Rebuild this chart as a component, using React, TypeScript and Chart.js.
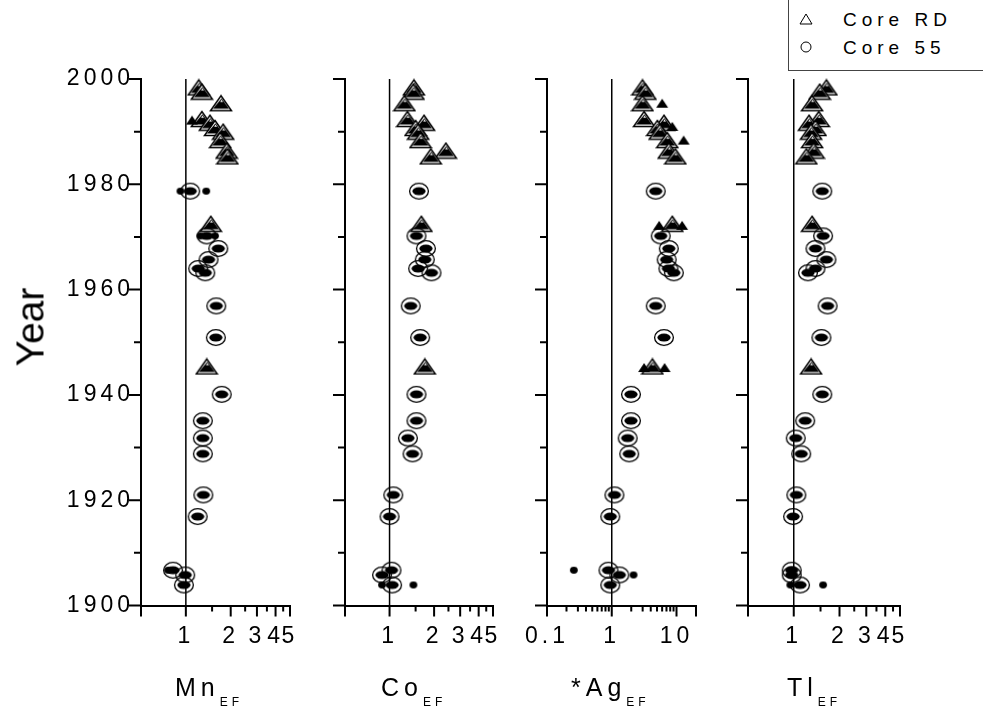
import React, { useEffect, useRef } from 'react';
import { Chart, registerables } from 'chart.js';
Chart.register(...registerables);

// ---------- data ----------
const core55Years = [1978.7, 1970.2, 1967.8, 1965.7, 1964.0, 1963.2, 1956.9, 1950.9, 1940.1, 1935.1, 1931.8, 1928.8, 1921.0, 1916.9, 1906.7, 1905.8, 1903.9];
const coreRDYears = [1998.4, 1997.6, 1995.4, 1992.4, 1991.7, 1990.7, 1990.0, 1988.4, 1986.4, 1985.3, 1972.5, 1945.4];

const mnRD = [1.22, 1.28, 1.72, 1.28, 1.45, 1.57, 1.78, 1.70, 1.88, 1.90, 1.47, 1.38];
const coRD = [1.46, 1.45, 1.26, 1.32, 1.71, 1.50, 1.56, 1.62, 2.40, 1.90, 1.64, 1.73];
const agRD = [2.98, 3.30, 2.98, 3.16, 6.40, 5.06, 5.50, 7.20, 7.60, 9.60, 8.60, 4.24];
const tlRD = [1.64, 1.48, 1.32, 1.46, 1.26, 1.39, 1.30, 1.32, 1.35, 1.21, 1.32, 1.30];

const mn55 = [1.07, 1.38, 1.65, 1.42, 1.21, 1.35, 1.60, 1.59, 1.74, 1.30, 1.30, 1.30, 1.31, 1.20, 0.82, 0.99, 0.97];
const co55 = [1.58, 1.52, 1.76, 1.73, 1.56, 1.92, 1.39, 1.61, 1.52, 1.52, 1.33, 1.43, 1.06, 1.00, 1.03, 0.89, 1.04];
const ag55 = [4.77, 5.70, 7.60, 7.04, 7.50, 9.10, 4.77, 6.40, 1.98, 1.98, 1.76, 1.86, 1.10, 0.95, 0.89, 1.31, 0.95];
const tl55 = [1.54, 1.56, 1.39, 1.64, 1.39, 1.24, 1.67, 1.52, 1.54, 1.19, 1.03, 1.12, 1.04, 0.99, 0.97, 0.97, 1.10];

// separate replicate values visible as lone black markers: [value, year]
const mnRDReplicates = [[1.10, 1992.2]];
const mn55Replicates = [[0.92, 1978.7], [1.37, 1978.7], [1.25, 1970.2], [1.57, 1970.2], [0.76, 1906.7]];
const coRDReplicates: number[][] = [];
const co55Replicates = [[0.89, 1903.9], [1.45, 1903.9]];
const agRDReplicates = [[6.0, 1995.4], [8.6, 1991.0], [12.9, 1988.4], [5.4, 1972.2], [12.2, 1972.2], [3.16, 1945.2], [6.55, 1945.2]];
const ag55Replicates = [[0.26, 1906.7], [2.17, 1905.8]];
const tlRDReplicates: number[][] = [];
const tl55Replicates = [[0.95, 1903.9], [1.56, 1903.9]];

const yearTicks = [1900, 1910, 1920, 1930, 1940, 1950, 1960, 1970, 1980, 1990, 2000];
const efTicks = [0.5, 1, 1.5, 2, 2.5, 3, 3.5, 4, 4.5, 5];
const efTickLabels = ['', '1', '', '2', '', '3', '', '4', '', '5'];
const efMajor = [0.5, 1, 2, 3, 4, 5];
const agTicks = [0.1, 0.2, 0.3, 0.4, 0.5, 0.6, 0.7, 0.8, 0.9, 1, 2, 3, 4, 5, 6, 7, 8, 9, 10, 20];
const agTickLabels = ['0.1', '', '', '', '', '', '', '', '', '1', '', '', '', '', '', '', '', '', '10', ''];
const agMajor = [0.1, 1, 10, 20];

// ---------- layout ----------
const TOP = 79;
const BOTTOM = 605.5;
const Y_W = 90;
const X_H = 60;
const PAD_R = 25;
const H = 709;
const FONT = "'Liberation Sans', Arial, sans-serif";

type PanelDef = {
  rd: number[]; c55: number[]; rdRep: number[][]; c55Rep: number[][];
  min: number; max: number; ticks: number[]; labels: string[]; major: number[];
  left: number; right: number; showY: boolean;
};

const panels: PanelDef[] = [
  { rd: mnRD, c55: mn55, rdRep: mnRDReplicates, c55Rep: mn55Replicates, min: 0.5, max: 5, ticks: efTicks, labels: efTickLabels, major: efMajor, left: 141, right: 290, showY: true },
  { rd: coRD, c55: co55, rdRep: coRDReplicates, c55Rep: co55Replicates, min: 0.5, max: 5, ticks: efTicks, labels: efTickLabels, major: efMajor, left: 345, right: 493, showY: false },
  { rd: agRD, c55: ag55, rdRep: agRDReplicates, c55Rep: ag55Replicates, min: 0.1, max: 20, ticks: agTicks, labels: agTickLabels, major: agMajor, left: 547, right: 696, showY: false },
  { rd: tlRD, c55: tl55, rdRep: tlRDReplicates, c55Rep: tl55Replicates, min: 0.5, max: 5, ticks: efTicks, labels: efTickLabels, major: efMajor, left: 748, right: 900, showY: false },
];

function makeImg(w: number, h: number, draw: (c: CanvasRenderingContext2D) => void) {
  const c = document.createElement('canvas');
  c.width = w; c.height = h;
  const ctx = c.getContext('2d')!;
  draw(ctx);
  return c;
}

function markerImages() {
  const tri = makeImg(24, 18, (ctx) => {
    ctx.beginPath(); ctx.moveTo(12, 1.5); ctx.lineTo(22.5, 16.5); ctx.lineTo(1.5, 16.5); ctx.closePath();
    ctx.fillStyle = '#fff'; ctx.fill(); ctx.lineWidth = 1.5; ctx.strokeStyle = '#000'; ctx.stroke();
    ctx.beginPath(); ctx.moveTo(12.5, 4.2); ctx.lineTo(20, 14.4); ctx.lineTo(4, 14.4); ctx.closePath();
    ctx.fillStyle = '#000'; ctx.fill();
    ctx.beginPath(); ctx.moveTo(12.5, 5.5); ctx.lineTo(14, 7.8); ctx.lineTo(11.2, 7.8); ctx.closePath();
    ctx.fillStyle = '#fff'; ctx.fill();
  });
  const circ = makeImg(22, 19, (ctx) => {
    ctx.beginPath(); ctx.ellipse(11, 9.5, 9.4, 7.9, 0, 0, Math.PI * 2);
    ctx.lineWidth = 1.3; ctx.strokeStyle = '#000'; ctx.stroke();
    ctx.beginPath(); ctx.ellipse(11, 9.5, 6.6, 4, 0, 0, Math.PI * 2);
    ctx.fillStyle = '#000'; ctx.fill();
  });
  const dot = makeImg(10, 9, (ctx) => {
    ctx.beginPath(); ctx.ellipse(5, 4.5, 3.9, 3.4, 0, 0, Math.PI * 2);
    ctx.fillStyle = '#000'; ctx.fill();
  });
  const smallTri = makeImg(14, 11, (ctx) => {
    ctx.beginPath(); ctx.moveTo(7, 1); ctx.lineTo(13, 10); ctx.lineTo(1, 10); ctx.closePath();
    ctx.fillStyle = '#000'; ctx.fill();
  });
  return { tri, circ, dot, smallTri };
}

function Panel({ def }: { def: PanelDef }) {
  const ref = useRef<HTMLCanvasElement>(null);
  useEffect(() => {
    const img = markerImages();
    const tickPlugin = {
      id: 'axisTicks',
      beforeDraw(chart: any) { chart.ctx.letterSpacing = '4px'; },
      afterDraw(chart: any) {
        const ctx = chart.ctx; const xs = chart.scales.x; const ys = chart.scales.y; const ca = chart.chartArea;
        ctx.save();
        ctx.strokeStyle = '#000'; ctx.lineWidth = 2;
        ctx.beginPath();
        def.ticks.forEach((v) => {
          const px = xs.getPixelForValue(v);
          const len = def.major.includes(v) ? 11 : 6;
          ctx.moveTo(px, ca.bottom); ctx.lineTo(px, ca.bottom + len);
        });
        yearTicks.forEach((v) => {
          const py = ys.getPixelForValue(v);
          const len = v % 20 === 0 ? 12 : 7;
          ctx.moveTo(ca.left, py); ctx.lineTo(ca.left - len, py);
        });
        ctx.stroke();
        ctx.restore();
      },
    };
    const chart = new Chart(ref.current!, {
      type: 'scatter',
      data: {
        datasets: [
          {
            type: 'line', label: 'ref', data: [{ x: 1, y: 1900 }, { x: 1, y: 2000 }],
            borderColor: '#000', borderWidth: 1.5, pointRadius: 0, showLine: true, order: 10, clip: false,
          } as any,
          {
            label: 'Core RD', data: coreRDYears.map((y, i) => ({ x: def.rd[i], y })),
            pointStyle: img.tri, pointRadius: 6, order: 5, clip: false,
          },
          {
            label: 'Core 55', data: core55Years.map((y, i) => ({ x: def.c55[i], y })),
            pointStyle: img.circ, pointRadius: 6, order: 4, clip: false,
          },
          {
            label: 'Core RD replicates', data: def.rdRep.map((p) => ({ x: p[0], y: p[1] })),
            pointStyle: img.smallTri, pointRadius: 4, order: 2, clip: false,
          },
          {
            label: 'Core 55 replicates', data: def.c55Rep.map((p) => ({ x: p[0], y: p[1] })),
            pointStyle: img.dot, pointRadius: 4, order: 1, clip: false,
          },
        ],
      },
      options: {
        responsive: false,
        animation: false,
        events: [],
        layout: { padding: { left: 0, right: PAD_R, top: TOP, bottom: H - BOTTOM - X_H } },
        plugins: { legend: { display: false }, tooltip: { enabled: false } },
        scales: {
          x: {
            type: 'logarithmic', min: def.min, max: def.max, position: 'bottom',
            afterBuildTicks: (s: any) => { s.ticks = def.ticks.map((v) => ({ value: v })); },
            afterFit: (s: any) => { s.height = X_H; },
            grid: { display: true, drawOnChartArea: false, drawTicks: true, tickLength: 11, color: 'rgba(0,0,0,0)' },
            border: { display: true, color: '#000', width: 2 },
            ticks: {
              autoSkip: false, maxRotation: 0, minRotation: 0, padding: 6, color: '#000',
              font: { family: FONT, size: 23 },
              callback: (_v: any, i: number) => def.labels[i],
            },
          },
          y: {
            type: 'linear', min: 1900, max: 2000, position: 'left',
            afterBuildTicks: (s: any) => { s.ticks = yearTicks.map((v) => ({ value: v })); },
            afterFit: (s: any) => { s.width = Y_W; },
            grid: { display: true, drawOnChartArea: false, drawTicks: true, tickLength: 6, color: 'rgba(0,0,0,0)' },
            border: { display: true, color: '#000', width: 2 },
            ticks: {
              display: def.showY, autoSkip: false, padding: 1, color: '#000',
              font: { family: FONT, size: 23 },
              callback: (v: any) => (Number(v) % 20 === 0 ? String(v) : ''),
            },
          },
        },
      } as any,
      plugins: [tickPlugin],
    });
    return () => chart.destroy();
  }, []);
  const w = Y_W + (def.right - def.left) + PAD_R;
  return <canvas ref={ref} width={w} height={H} style={{ position: 'absolute', left: def.left - Y_W, top: 0, width: w, height: H }} />;
}

const xTitles = [
  { main: 'Mn', left: 175 },
  { main: 'Co', left: 381 },
  { main: '*Ag', left: 571 },
  { main: 'Tl', left: 787 },
];

export default function App() {
  return (
    <div style={{ position: 'absolute', left: 0, top: 0, width: 983, height: 709, background: '#fff', overflow: 'hidden', fontFamily: FONT }}>
      {panels.map((p, i) => <Panel key={i} def={p} />)}
      <div style={{ position: 'absolute', left: 30, top: 327, transform: 'translate(-50%, -50%) rotate(-90deg)', fontSize: 39, whiteSpace: 'nowrap', color: '#000', lineHeight: 1 }}>Year</div>
      {xTitles.map((t, i) => (
        <div key={i} style={{ position: 'absolute', left: t.left, top: 675, fontSize: 25, letterSpacing: '5px', whiteSpace: 'nowrap', color: '#000', lineHeight: 1 }}>
          {t.main}<span style={{ fontSize: 12, letterSpacing: '4px', position: 'relative', top: 10 }}>EF</span>
        </div>
      ))}
      <div style={{ position: 'absolute', left: 788, top: -1, width: 210, height: 70, border: '1px solid #444', background: '#fff', fontSize: 19, letterSpacing: '5px', color: '#000' }}>
        <svg style={{ position: 'absolute', left: 10, top: 13 }} width="14" height="12"><polygon points="7,1 13,11 1,11" fill="none" stroke="#000" strokeWidth="1" /></svg>
        <div style={{ position: 'absolute', left: 54, top: 10, lineHeight: 1 }}>Core RD</div>
        <svg style={{ position: 'absolute', left: 11, top: 41 }} width="12" height="12"><circle cx="6" cy="6" r="5" fill="none" stroke="#000" strokeWidth="1" /></svg>
        <div style={{ position: 'absolute', left: 54, top: 38, lineHeight: 1 }}>Core 55</div>
      </div>
    </div>
  );
}
